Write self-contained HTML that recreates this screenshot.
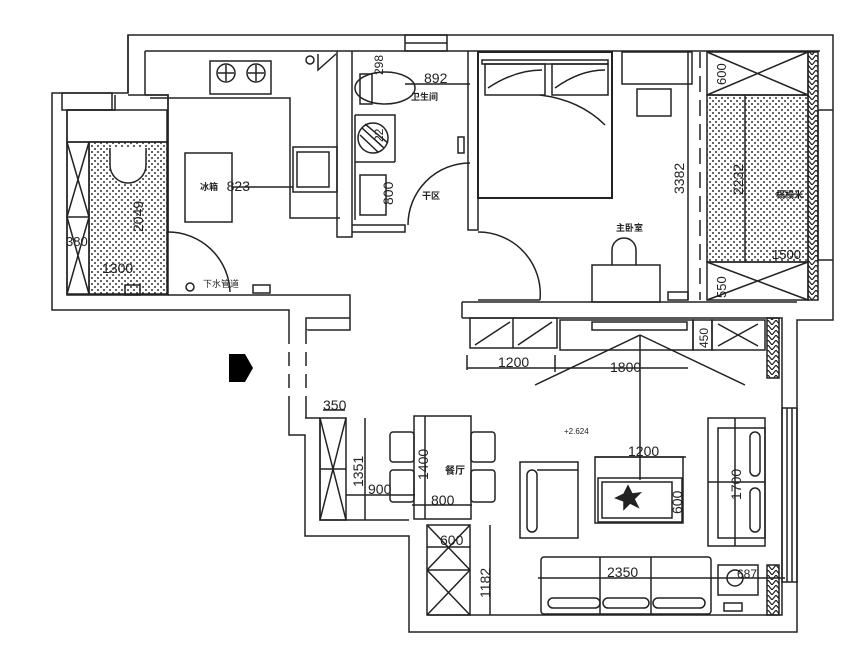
<!DOCTYPE html>
<html><head><meta charset="utf-8"><style>
html,body{margin:0;padding:0;background:#fff;}
svg{display:block;}
text{font-family:"Liberation Sans","Noto Sans CJK SC",sans-serif;fill:#222;}
</style></head><body>
<svg width="863" height="650" viewBox="0 0 863 650" xmlns="http://www.w3.org/2000/svg">
<defs>
<pattern id="dots" width="6" height="6" patternUnits="userSpaceOnUse"><circle cx="2" cy="2" r="1" fill="#333"/><circle cx="5" cy="5" r="1" fill="#333"/></pattern>
<pattern id="zig" width="8" height="5" patternUnits="userSpaceOnUse"><path d="M0 0 L4 5 L8 0" fill="none" stroke="#222" stroke-width="1.2"/></pattern>
</defs>
<g fill="none" stroke="#222" stroke-width="1.5">
<!-- top wall -->
<path d="M128 35 H833 V320 H797 V632 H409 V536 H305 V435 H289 V310 H52 V93 H128 Z"/>
<path d="M145 51 H820 M128 35 V93 M145 51 V95"/>
<rect x="405" y="35" width="42" height="16"/><line x1="405" y1="43" x2="447" y2="43"/>
<!-- left small room -->
<path d="M67 110 V295 H168 V232 M67 110 H115 V95 M128 95 H168 V232"/>
<rect x="62" y="93" width="50" height="17"/>
<rect x="67" y="110" width="100" height="32"/>
<rect x="67" y="142" width="22" height="152"/>
<line x1="67" y1="217" x2="89" y2="217"/>
<path d="M67 142 L89 217 M89 142 L67 217 M67 217 L89 294 M89 217 L67 294"/>
<rect x="89" y="142" width="78" height="152" fill="url(#dots)"/>
<path d="M110 148 V165 A18 18 0 0 0 146 165 V148" fill="#fff"/>
<rect x="125" y="285" width="15" height="10"/>
<!-- kitchen -->
<path d="M168 232 V95 H145 M150 98 H290 V218 H340 M168 295 H350 V330 H306 M350 318 H306 V418"/>
<path d="M168 232 A62 62 0 0 1 230 292"/>
<rect x="210" y="61" width="61" height="33"/>
<circle cx="226" cy="73" r="9"/><circle cx="256" cy="73" r="9"/>
<path d="M218 73 H234 M226 65 V81 M248 73 H264 M256 65 V81"/>
<rect x="185" y="153" width="47" height="69"/>
<line x1="232" y1="187" x2="293" y2="187"/>
<rect x="293" y="147" width="44" height="45"/><rect x="297" y="152" width="32" height="35"/>
<path d="M318 54 V70 L336 54" /><circle cx="310" cy="60" r="4"/>
<rect x="253" y="285" width="17" height="8"/>
<circle cx="190" cy="287" r="4"/>
<!-- kitchen/bath wall -->
<path d="M337 51 V237 H352 V51"/>
<!-- bathroom -->
<path d="M352 225 H405 V232 H352 M468 51 V230 H478 V51"/>
<ellipse cx="385" cy="88" rx="30" ry="16"/><path d="M360 74 V104 H372 V74 Z"/>
<path d="M355 115 V220 M355 115 H395 V162 M355 162 H395"/>
<circle cx="373" cy="138" r="15"/>
<path d="M362 128 L384 148 M365 124 L388 143 M360 135 L378 152"/>
<rect x="360" y="175" width="26" height="40"/>
<line x1="405" y1="84" x2="470" y2="84"/>
<path d="M470 163 A62 62 0 0 0 408 225"/>
<rect x="458" y="137" width="6" height="16"/>
<!-- bedroom -->
<rect x="478" y="52" width="134" height="146" stroke-width="2"/>
<rect x="482" y="60" width="126" height="4"/>
<path d="M485 64 H545 V95 H485 Z M552 64 H608 V95 H552 Z"/>
<path d="M488 88 Q515 70 542 70 M555 88 Q580 70 605 70 M540 95 Q580 100 605 125"/>
<rect x="622" y="52" width="70" height="32"/>
<rect x="637" y="89" width="34" height="27"/>
<line x1="688" y1="52" x2="688" y2="300"/>
<line x1="700" y1="52" x2="700" y2="300" stroke-dasharray="16 8"/>
<path d="M478 232 A62 62 0 0 1 540 300 M478 300 H540"/>
<rect x="592" y="265" width="68" height="37"/>
<path d="M612 265 V250 A12 12 0 0 1 636 250 V265"/>
<rect x="668" y="292" width="20" height="8"/>
<rect x="707" y="52" width="101" height="43"/><path d="M707 52 L808 95 M808 52 L707 95"/>
<rect x="707" y="95" width="101" height="167" fill="url(#dots)"/>
<line x1="745" y1="95" x2="745" y2="262"/>
<rect x="707" y="262" width="101" height="38"/><path d="M707 262 L808 300 M808 262 L707 300"/>
<rect x="808" y="52" width="10" height="248" fill="url(#zig)"/>
<path d="M818 110 V260 H833 M818 110 H833"/>
<!-- bedroom bottom wall -->
<path d="M462 302 H797 M462 318 H782 V615 H428 M462 302 V318"/>
<rect x="782" y="408" width="15" height="174"/><path d="M787 408 V582 M792 408 V582"/>
<!-- living cabinets -->
<rect x="470" y="318" width="87" height="30"/><line x1="513" y1="318" x2="513" y2="348"/>
<path d="M475 345 L510 322 M518 345 L552 322"/>
<rect x="560" y="320" width="133" height="30"/><rect x="592" y="322" width="95" height="8"/>
<rect x="693" y="320" width="19" height="30"/>
<rect x="712" y="320" width="53" height="30"/><path d="M718 324 L758 346 M758 324 L718 346"/>
<rect x="767" y="318" width="12" height="60" fill="url(#zig)"/>
<rect x="767" y="565" width="12" height="50" fill="url(#zig)"/>
<path d="M467 368 H555 M555 368 H688 M467 355 V370 M555 355 V372"/>
<path d="M640 335 L535 385 M640 335 L745 385 M640 335 V480"/>
<!-- dining -->
<path d="M320 418 V520 H409 M305 418 H320"/>
<rect x="320" y="418" width="26" height="102"/><path d="M320 418 L346 520 M346 418 L320 520 M320 469 H346"/>
<line x1="323" y1="410" x2="345" y2="410"/>
<line x1="365" y1="418" x2="365" y2="520"/>
<line x1="346" y1="495" x2="415" y2="495"/>
<rect x="414" y="416" width="57" height="103"/>
<line x1="425" y1="416" x2="425" y2="519"/>
<line x1="412" y1="505" x2="472" y2="505"/>
<rect x="390" y="432" width="24" height="30" rx="3"/><rect x="390" y="470" width="24" height="32" rx="3"/>
<rect x="471" y="432" width="24" height="30" rx="3"/><rect x="471" y="470" width="24" height="32" rx="3"/>
<rect x="427" y="525" width="43" height="90"/><path d="M427 525 L470 570 M470 525 L427 570 M427 570 L470 615 M470 570 L427 615 M427 570 H470 M427 547 H470"/>
<line x1="490" y1="525" x2="490" y2="615"/>
<!-- living furniture -->
<rect x="520" y="462" width="58" height="76"/><rect x="527" y="470" width="10" height="62" rx="5"/>
<path d="M537 470 H578"/>
<rect x="595" y="457" width="88" height="66"/><rect x="598" y="478" width="84" height="44"/><rect x="602" y="482" width="70" height="36"/>
<line x1="595" y1="457" x2="686" y2="457"/>
<path d="M628 486 L632 494 L640 493 L634 499 L638 507 L630 503 L624 509 L624 501 L616 498 L624 494 Z" fill="#222"/>
<rect x="708" y="418" width="57" height="128"/><rect x="718" y="428" width="47" height="110"/>
<line x1="708" y1="482" x2="765" y2="482"/><line x1="735" y1="418" x2="735" y2="546"/>
<rect x="750" y="432" width="10" height="44" rx="5"/><rect x="750" y="488" width="10" height="44" rx="5"/>
<rect x="541" y="557" width="170" height="57" rx="3"/>
<line x1="600" y1="557" x2="600" y2="614"/><line x1="651" y1="557" x2="651" y2="614"/>
<rect x="548" y="598" width="52" height="10" rx="5"/><rect x="603" y="598" width="46" height="10" rx="5"/><rect x="653" y="598" width="52" height="10" rx="5"/>
<line x1="538" y1="578" x2="785" y2="578"/>
<rect x="718" y="565" width="40" height="30"/><circle cx="735" cy="578" r="8"/>
<rect x="724" y="603" width="18" height="8"/>
</g>
<!-- entry arrow -->
<path d="M229 354 H245 L253 368 L245 382 H229 Z" fill="#000"/>
<path d="M289 330 V400 M306 330 V400" stroke="#fff" stroke-width="3"/>
<path d="M289 330 V400 M306 330 V400" stroke="#222" stroke-width="1.5" stroke-dasharray="14 8"/>
<g font-size="14">
<text x="250" y="191" text-anchor="end">823</text>
<text x="424" y="83">892</text>
<text x="102" y="273">1300</text>
<text x="498" y="367">1200</text>
<text x="610" y="372">1800</text>
<text x="628" y="456">1200</text>
<text x="323" y="410">350</text>
<text x="368" y="494">900</text>
<text x="431" y="505">800</text>
<text x="440" y="545">600</text>
<text x="607" y="577">2350</text>
<text x="737" y="578" font-size="12">687</text>
<text x="772" y="259" font-size="13">1500</text>
<text transform="translate(143,232) rotate(-90)">2049</text>
<text transform="translate(393,205) rotate(-90)">800</text>
<text transform="translate(383,75) rotate(-90)" font-size="12">298</text>
<text transform="translate(383,142) rotate(-90)" font-size="12">22</text>
<text transform="translate(684,194) rotate(-90)">3382</text>
<text transform="translate(743,195) rotate(-90)">2232</text>
<text transform="translate(726,85) rotate(-90)" font-size="13">600</text>
<text transform="translate(726,298) rotate(-90)" font-size="13">550</text>
<text transform="translate(708,348) rotate(-90)" font-size="12">450</text>
<text transform="translate(363,487) rotate(-90)">1351</text>
<text transform="translate(428,480) rotate(-90)">1400</text>
<text transform="translate(490,598) rotate(-90)">1182</text>
<text transform="translate(682,514) rotate(-90)">600</text>
<text transform="translate(741,500) rotate(-90)">1700</text>
<text x="66" y="246" font-size="13">380</text>
</g>
<g font-size="9" font-weight="bold">
<text x="200" y="190">冰箱</text>
<text x="411" y="100">卫生间</text>
<text x="422" y="199">干区</text>
<text x="616" y="231">主卧室</text>
<text x="776" y="198">榻榻米</text>
<text x="445" y="474" font-size="10">餐厅</text>
</g>
<text x="203" y="287" font-size="9" fill="#555">下水管道</text>
<text x="564" y="434" font-size="8" fill="#555">+2.624</text>
</svg>
</body></html>
